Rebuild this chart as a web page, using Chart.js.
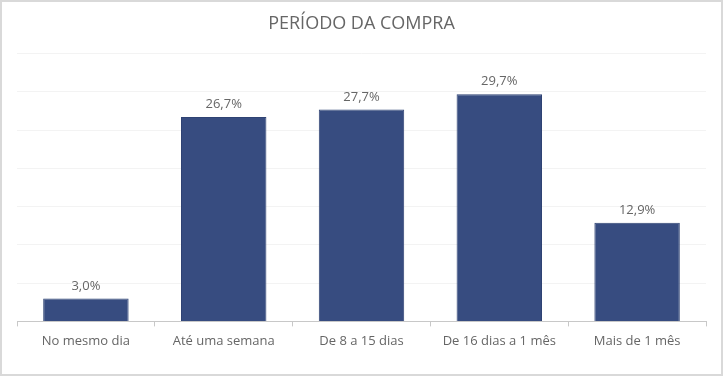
<!DOCTYPE html>
<html><head><meta charset="utf-8">
<script src="https://cdn.jsdelivr.net/npm/chart.js@4/dist/chart.umd.min.js"></script>
<style>
html,body{margin:0;padding:0;background:#fff;}
#wrap{position:absolute;left:0;top:0;width:723px;height:376px;box-sizing:border-box;border:2px solid #d9d9d9;background:#fff;}
canvas{display:block;}
</style></head><body>
<div id="wrap"><canvas id="c" width="719" height="372"></canvas></div>
<script>
const categories = ["No mesmo dia","Até uma semana","De 8 a 15 dias","De 16 dias a 1 mês","Mais de 1 mês"];
const values = [3.0, 26.7, 27.7, 29.7, 12.9];
const labels = ["3,0%","26,7%","27,7%","29,7%","12,9%"];

const valueLabels = {
  id:'valueLabels',
  afterDatasetsDraw(chart){
    const ctx = chart.ctx;
    const meta = chart.getDatasetMeta(0);
    ctx.save();
    ctx.font = '13px "Open Sans", "Liberation Sans", sans-serif';
    ctx.fillStyle = '#666666';
    ctx.textAlign = 'center';
    ctx.textBaseline = 'bottom';
    meta.data.forEach((el,i)=>{
      ctx.fillText(labels[i], el.x, el.y - 6);
    });
    ctx.restore();
  }
};

new Chart(document.getElementById('c'), {
  type:'bar',
  data:{labels:categories, datasets:[{data:values, backgroundColor:'#374C80', borderColor:'#2F4373', borderWidth:1, categoryPercentage:0.62, barPercentage:1}]},
  options:{
    responsive:false, animation:false,
    layout:{padding:{left:15,right:15,top:0,bottom:18}},
    plugins:{
      legend:{display:false}, tooltip:{enabled:false},
      title:{display:true, text:'PERÍODO DA COMPRA', color:'#666666',
        font:{family:'"Open Sans", "Liberation Sans", sans-serif', size:18, weight:'normal'},
        padding:{top:11, bottom:19}}
    },
    scales:{
      x:{
        grid:{drawOnChartArea:false, drawTicks:true, tickLength:5, color:'#c8c8c8'},
        border:{color:'#c8c8c8'},
        ticks:{color:'#666666', font:{family:'"Open Sans", "Liberation Sans", sans-serif', size:13}, padding:7}
      },
      y:{
        min:0, max:35,
        ticks:{display:false, stepSize:5},
        grid:{color:'#f3f3f3', drawTicks:false},
        border:{display:false},
        afterFit(s){ s.width = 0; }
      }
    }
  },
  plugins:[valueLabels]
});
</script>
</body></html>
